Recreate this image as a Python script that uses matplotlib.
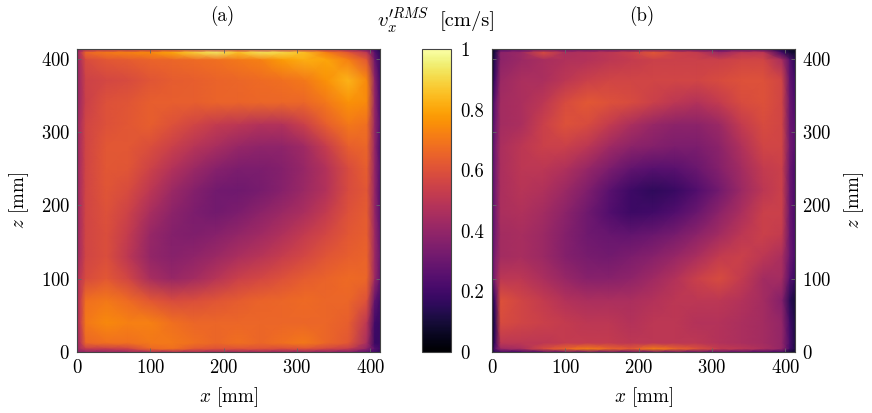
import numpy as np
import matplotlib
matplotlib.use('Agg')
import matplotlib.pyplot as plt

# sample positions in mm, denser close to the walls
x_grid = [0, 4, 12, 40, 70, 100, 130, 160, 190, 220, 250, 280, 310, 340, 370, 395, 406, 413]
z_grid = [413, 408, 398, 370, 340, 310, 280, 250, 220, 190, 160, 130, 100, 70, 40, 12, 4, 0]

x_ticks = [0, 100, 200, 300, 400]
z_ticks = [0, 100, 200, 300, 400]
cbar_ticks = [0, 0.2, 0.4, 0.6, 0.8, 1]
cbar_labels = ['0', '0.2', '0.4', '0.6', '0.8', '1']

# panel (a), rows go from top to bottom
rms_a = [
    [.35, .40, .42, .45, .45, .48, .50, .50, .50, .50, .50, .50, .50, .45, .40, .30, .20, .12],
    [.42, .48, .66, .70, .72, .74, .80, .88, .93, .85, .92, .90, .85, .72, .62, .50, .25, .15],
    [.40, .46, .58, .62, .63, .65, .66, .67, .68, .70, .72, .78, .82, .80, .72, .62, .30, .18],
    [.40, .44, .55, .57, .58, .61, .63, .64, .65, .66, .67, .68, .70, .76, .83, .74, .38, .20],
    [.40, .44, .54, .60, .61, .64, .64, .64, .65, .65, .66, .66, .66, .70, .76, .74, .40, .22],
    [.42, .46, .56, .60, .62, .64, .60, .56, .52, .50, .48, .48, .54, .64, .70, .68, .40, .25],
    [.40, .46, .56, .62, .62, .59, .54, .49, .45, .41, .39, .39, .43, .53, .64, .66, .40, .22],
    [.40, .46, .56, .62, .61, .55, .48, .42, .37, .34, .34, .36, .41, .48, .58, .64, .40, .25],
    [.40, .46, .56, .61, .58, .50, .42, .36, .32, .31, .33, .37, .42, .48, .58, .62, .40, .24],
    [.40, .46, .56, .60, .55, .45, .38, .34, .32, .34, .38, .42, .46, .52, .60, .63, .40, .26],
    [.40, .46, .56, .59, .52, .41, .36, .35, .37, .40, .43, .47, .52, .57, .62, .64, .42, .28],
    [.42, .46, .56, .59, .50, .40, .37, .39, .42, .46, .49, .53, .57, .61, .64, .65, .42, .30],
    [.45, .50, .58, .62, .56, .45, .41, .44, .49, .54, .57, .60, .63, .65, .67, .66, .42, .28],
    [.45, .52, .68, .70, .67, .62, .58, .59, .61, .63, .65, .66, .67, .66, .66, .60, .28, .20],
    [.45, .52, .70, .74, .72, .72, .68, .66, .66, .66, .66, .66, .66, .66, .64, .50, .20, .18],
    [.42, .48, .66, .68, .68, .70, .70, .68, .66, .68, .66, .68, .70, .66, .62, .45, .18, .18],
    [.40, .46, .52, .52, .55, .66, .68, .62, .60, .60, .60, .58, .60, .56, .52, .38, .25, .20],
    [.35, .38, .40, .40, .42, .45, .45, .45, .42, .42, .42, .40, .40, .38, .35, .25, .20, .15],
]

# panel (b), rows go from top to bottom
rms_b = [
    [.05, .10, .22, .25, .28, .28, .28, .28, .28, .30, .28, .25, .22, .25, .22, .12, .08, .05],
    [.05, .12, .38, .42, .58, .46, .48, .50, .54, .62, .55, .52, .42, .50, .50, .20, .10, .08],
    [.05, .15, .38, .42, .45, .47, .48, .50, .52, .54, .54, .54, .54, .56, .56, .45, .25, .15],
    [.08, .20, .42, .46, .46, .50, .54, .56, .56, .56, .56, .56, .58, .60, .60, .56, .28, .20],
    [.15, .28, .44, .46, .50, .58, .62, .60, .58, .54, .50, .48, .52, .58, .60, .56, .30, .22],
    [.20, .30, .44, .46, .54, .60, .58, .52, .46, .41, .38, .38, .42, .52, .58, .56, .30, .25],
    [.22, .32, .46, .50, .54, .54, .50, .43, .38, .36, .34, .34, .38, .47, .56, .56, .32, .25],
    [.24, .32, .46, .50, .50, .47, .41, .34, .28, .25, .26, .30, .36, .44, .52, .54, .30, .22],
    [.24, .32, .46, .49, .47, .42, .35, .26, .19, .16, .18, .24, .32, .42, .50, .54, .30, .22],
    [.24, .32, .46, .47, .44, .38, .31, .24, .19, .20, .24, .30, .38, .46, .54, .54, .30, .22],
    [.24, .32, .44, .45, .42, .36, .31, .29, .28, .30, .33, .38, .44, .50, .54, .52, .30, .22],
    [.24, .34, .44, .45, .42, .36, .33, .32, .34, .37, .41, .46, .52, .54, .50, .46, .30, .22],
    [.26, .36, .50, .50, .46, .41, .37, .37, .39, .43, .48, .54, .58, .52, .44, .44, .25, .18],
    [.08, .20, .60, .56, .52, .48, .46, .46, .46, .48, .50, .50, .50, .48, .44, .36, .15, .10],
    [.05, .15, .58, .56, .54, .52, .50, .50, .48, .50, .50, .48, .48, .46, .44, .40, .20, .12],
    [.05, .18, .50, .50, .50, .52, .52, .52, .50, .50, .50, .50, .48, .46, .44, .40, .22, .12],
    [.08, .25, .42, .45, .58, .66, .72, .66, .62, .72, .66, .60, .52, .50, .46, .40, .20, .12],
    [.10, .15, .20, .20, .25, .30, .30, .30, .28, .30, .30, .28, .28, .25, .22, .20, .10, .08],
]

plt.rcParams['font.family'] = ['cmr10', 'DejaVu Serif']
plt.rcParams['mathtext.fontset'] = 'cm'
plt.rcParams['axes.formatter.use_mathtext'] = True
plt.rcParams['font.size'] = 13.7

W, H = 872, 413
fig = plt.figure(figsize=(W / 100, H / 100), dpi=100)


# rectangle given in pixels from the top left corner
def add_box(left, top, right, bottom):
    return fig.add_axes([left / W, 1 - bottom / H, (right - left) / W, (bottom - top) / H])


def draw_panel(ax, values):
    mesh = ax.pcolormesh(x_grid, z_grid, np.array(values), shading='gouraud',
                         cmap='inferno', vmin=0, vmax=1, rasterized=True)
    ax.set_xlim(0, 413)
    ax.set_ylim(0, 413)
    ax.set_xticks(x_ticks)
    ax.set_yticks(z_ticks)
    ax.tick_params(direction='in', length=3, width=0.6, color='#666666',
                   top=True, right=True, pad=5, labelsize=13.5)
    for s in ax.spines.values():
        s.set_linewidth(0.8)
        s.set_color('#444444')
    ax.set_xlabel('$x$ [mm]', labelpad=6)
    ax.set_ylabel('$z$ [mm]', labelpad=7)
    return mesh


ax_a = add_box(77, 49, 380, 352)
mesh_a = draw_panel(ax_a, rms_a)

ax_b = add_box(492, 49, 795, 352)
draw_panel(ax_b, rms_b)
ax_b.yaxis.tick_right()
ax_b.yaxis.set_label_position('right')
ax_b.tick_params(left=True, right=True, direction='in')
ax_b.yaxis.labelpad = 8

cax = add_box(422, 49, 451, 352)
cbar = fig.colorbar(mesh_a, cax=cax)
cbar.set_ticks(cbar_ticks)
cbar.set_ticklabels(cbar_labels)
cbar.ax.tick_params(length=0, pad=7, labelsize=13.5)
cbar.outline.set_linewidth(0.8)
cbar.outline.set_edgecolor('#444444')

fig.text(222.5 / W, 1 - 16 / H, '(a)', ha='center', va='center')
fig.text(641.5 / W, 1 - 16 / H, '(b)', ha='center', va='center')
fig.text(377 / W, 1 - 21 / H, r"$v_x^{\prime RMS}$", ha='left', va='center', fontsize=15)
fig.text(440 / W, 1 - 21 / H, '[cm/s]', ha='left', va='center', fontsize=14.8)

fig.savefig('out.png', dpi=100)
